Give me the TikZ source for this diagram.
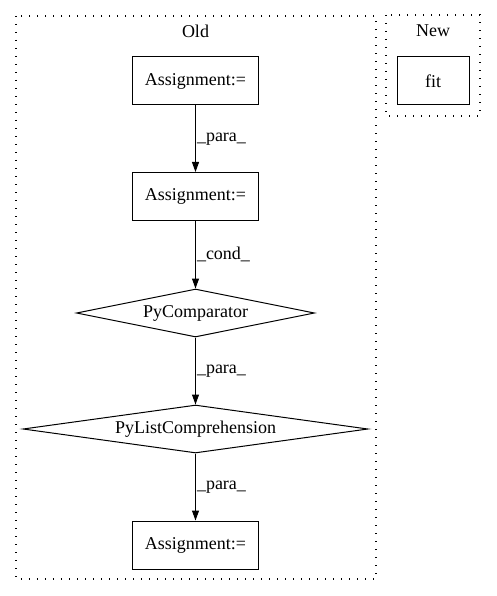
\documentclass[tikz,border=0pt]{standalone}
\usepackage{fontspec}
\setmainfont{Liberation Serif}
\usetikzlibrary{arrows.meta,positioning,shapes.geometric}
\definecolor{gvblack}{RGB}{0,0,0}
\definecolor{gvwhite}{RGB}{255,255,255}

\tikzset{
  gvbox/.style={draw=gvblack, line width=1pt, minimum width=126pt, minimum height=48pt, inner sep=0pt},
  gvdiam/.style={draw=gvblack, line width=1pt, shape=diamond, aspect=7, inner sep=0pt, minimum height=48pt},
  gvclust/.style={draw=gvblack, line width=1.2pt, dash pattern=on 1.2pt off 6.8pt},
  gvedge/.style={->, draw=gvblack, line width=1pt},
  gvlbl/.style={right, inner sep=1pt, midway}
}

\begin{document}
\begin{tikzpicture}[x=1pt, y=-1pt, >={Triangle[length=10pt,width=7pt]},
    font=\fontsize{18pt}{20pt}\selectfont]
  \useasboundingbox[fill=gvwhite] (0,0) rectangle (496,596);
  % clusters
  \draw[gvclust] (16,16) rectangle (376,579);
  \draw[gvclust] (386,15) rectangle (480,116);
  \node (oldlbl) at (195.5,31) {Old};
  \node (newlbl) at (433,31) {New};
  % old side
  \node[gvbox] (asg1) at (195.5,81) {Assignment:=};
  \node[gvbox] (asg2) at (195.5,196.5) {Assignment:=};
  \node[gvdiam, minimum width=238pt] (cmp) at (195.5,313) {PyComparator};
  \node[gvdiam, minimum width=345pt] (lcomp) at (195.5,429) {PyListComprehension};
  \node[gvbox] (asg3) at (195.5,545) {Assignment:=};
  % new side
  \node[gvbox, minimum width=72pt] (fit) at (433,81) {fit};
  % edges
  \draw[gvedge] (asg1) -- (asg2) node[gvlbl] {\_para\_};
  \draw[gvedge] (asg2) -- (cmp.north) node[gvlbl] {\_cond\_};
  \draw[gvedge] (cmp.south) -- (lcomp.north) node[gvlbl] {\_para\_};
  \draw[gvedge] (lcomp.south) -- (asg3) node[gvlbl] {\_para\_};
\end{tikzpicture}
\end{document}
